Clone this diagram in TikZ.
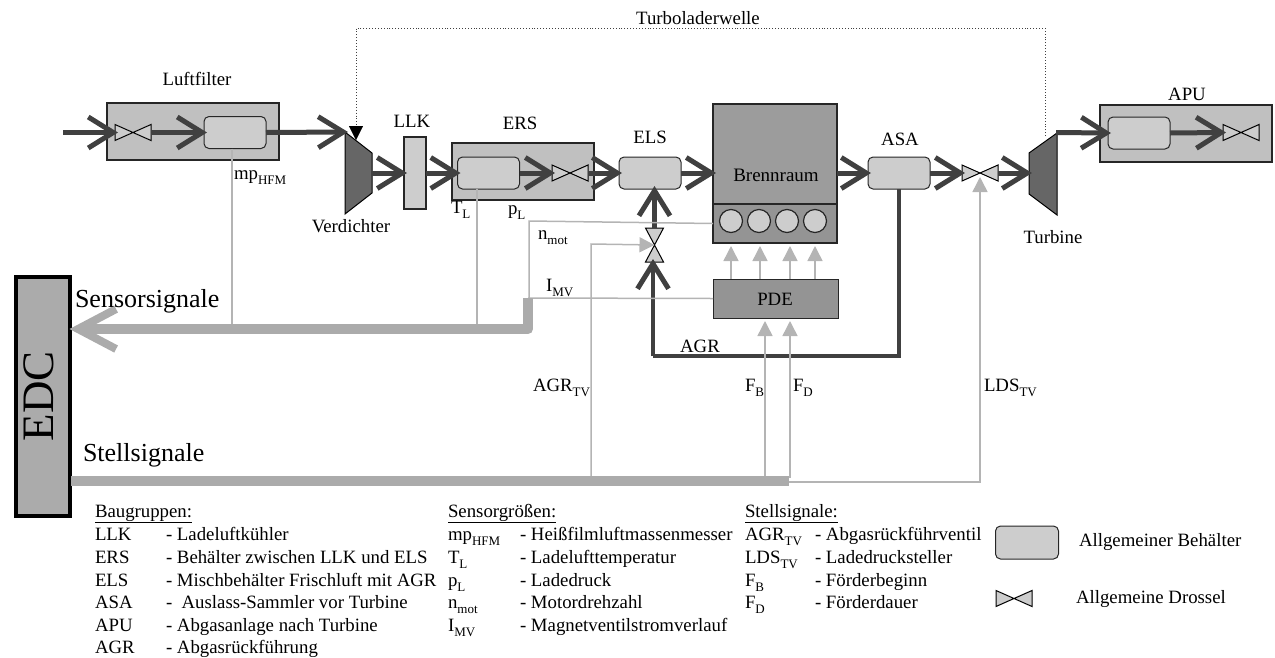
\documentclass[tikz,border=0pt]{standalone}
\usepackage{fontspec}
\setmainfont{Liberation Serif}
\usetikzlibrary{arrows.meta}
\definecolor{flowc}{HTML}{404040}
\definecolor{sigc}{HTML}{B4B4B4}
\definecolor{barc}{HTML}{ABABAB}
\definecolor{boxc}{HTML}{C0C0C0}
\definecolor{contc}{HTML}{CDCDCD}
\definecolor{motc}{HTML}{9C9C9C}
\definecolor{machc}{HTML}{666666}
\newcommand\tief[1]{\raisebox{-0.3em}{\fontsize{13}{13}\selectfont #1}}
\newcommand\fs[1]{\fontsize{#1}{#1}\selectfont}
\tikzset{
  every node/.style={inner sep=0pt,outer sep=0pt},
  gruppe/.style={draw=black!85,line width=1.2pt,fill=boxc,minimum width=#1,minimum height=57pt},
  behaelter/.style={draw=black!85,line width=1pt,fill=contc,rounded corners=5pt,minimum width=62pt,minimum height=32pt},
  schwarz/.style={draw=black!85,line width=1.2pt,fill=motc},
  drosselbox/.style={minimum width=36pt,minimum height=16pt},
  drosselhoch/.style={minimum width=18pt,minimum height=34pt},
  flowline/.style={draw=flowc,line width=5pt,-{Straight Barb[length=25pt,width=31pt,line width=5pt]},shorten >=-3pt},
  agrline/.style={draw=flowc,line width=3.5pt,line join=miter},
  signal/.style={draw=sigc,line width=1.5pt},
  signalpfeil/.style={signal,-{Triangle[length=15pt,width=15pt,fill=sigc]}},
  dick/.style={draw=barc,line width=10pt,line join=round},
  txt/.style={font=\fs{18.8},anchor=base west},
  mitte/.style={font=\fs{18.8},anchor=base},
}
\newcommand\drosselH[1]{%
  \filldraw[draw=black,line width=1pt,fill=contc] (#1.south west)--(#1.center)--(#1.north west)--cycle
    (#1.south east)--(#1.center)--(#1.north east)--cycle;}
\newcommand\drosselV[1]{%
  \filldraw[draw=black,line width=1pt,fill=contc] (#1.north west)--(#1.center)--(#1.north east)--cycle
    (#1.south west)--(#1.center)--(#1.south east)--cycle;}
\begin{document}
\begin{tikzpicture}[x=1pt,y=-1pt]
\useasboundingbox (0,0) rectangle (1275,657);
% groups
\node[gruppe=172pt] (lf) at (193,131.5) {};
\node[gruppe=142pt] (ers) at (523,171.5) {};
\node[gruppe=172pt] (apu) at (1186,133.5) {};
% engine
\node[schwarz,minimum width=124pt,minimum height=100pt,anchor=north west] (br) at (713,104) {};
\node[schwarz,minimum width=124pt,minimum height=39pt,anchor=north west,fill=motc!95!black] (zyl) at (713,204) {};
\node[schwarz,minimum width=125pt,minimum height=39pt,anchor=north west,line width=1pt,fill=motc!95!black] (pde) at (713,279) {};
\foreach \n/\x in {1/731,2/759,3/787,4/815}
  \node[circle,draw=black!85,line width=1.2pt,fill=contc,minimum size=23pt] (c\n) at (\x,221) {};
% containers
\node[behaelter] (k1) at (235,132.5) {};
\node[behaelter] (k2) at (488.5,173) {};
\node[behaelter] (els) at (650,173) {};
\node[behaelter] (asa) at (899,173) {};
\node[behaelter] (k5) at (1139,133) {};
% valves
\node[drosselbox] (v1) at (133,132.5) {}; \drosselH{v1}
\node[drosselbox] (v2) at (570,173) {}; \drosselH{v2}
\node[drosselbox] (v3) at (980,173) {}; \drosselH{v3}
\node[drosselbox] (v4) at (1241,132.5) {}; \drosselH{v4}
\node[drosselhoch] (v5) at (654.5,245) {}; \drosselV{v5}
% LLK
\node[draw=black!85,line width=1.2pt,fill=contc,minimum width=22pt,minimum height=72pt] (llk) at (415,173) {};
% compressor and turbine
\node[minimum width=27pt,minimum height=82pt] (vd) at (358.5,173) {};
\filldraw[draw=black,line width=1pt,fill=machc] (vd.north west)--(vd.east |- 0,153)--(vd.east |- 0,193)--(vd.south west)--cycle;
\node[minimum width=28pt,minimum height=82pt] (tb) at (1043,174) {};
\filldraw[draw=black,line width=1pt,fill=machc] (tb.north east)--(tb.west |- 0,153)--(tb.west |- 0,194)--(tb.south east)--cycle;
% shaft
\coordinate (w1) at (1045,136);
\coordinate (w2) at (356,140);
\draw[draw=black!75,line width=.9pt,dotted] (w1)--(1045,28)--(356,28)--(356,127);
\coordinate (w3) at (356,126);
\draw[black,-{Triangle[length=14pt,width=14pt,fill=black]}] (w3)--(w2);
% flow
\coordinate (in) at (63,132.5);
\draw[flowline] (in)--(v1.west);
\draw[flowline] (v1.east)--(k1.west);
\draw[flowline] (k1.east)--(vd.north west);
\draw[flowline] (vd.east)--(llk.west);
\draw[flowline] (llk.east)--(k2.west);
\draw[flowline] (k2.east)--(v2.west);
\draw[flowline] (v2.east)--(els.west);
\draw[flowline] (els.east)--(br.west |- els.east);
\draw[flowline] (br.east |- asa.west)--(asa.west);
\draw[flowline] (asa.east)--(v3.west);
\draw[flowline] (v3.east)--(tb.west |- v3.east);
\coordinate (taus) at (1056,132.5);
\draw[flowline] (taus)--(k5.west);
\draw[flowline] (k5.east)--(v4.west);
% EGR
\draw[flowline] (v5.north)--(els.south -| v5.north);
\coordinate (agr) at (653,356);
\draw[agrline] (asa.south)--(899,356)--(agr);
\draw[flowline,line width=4.5pt] (agr)--(653,262);
% EDC
\node[draw=black,line width=4pt,fill=barc,minimum width=54pt,minimum height=239pt] (edc) at (42.5,396.5) {};
\node[rotate=90,font=\fs{45}] (edct) at (39,396) {EDC};
% sensors
\coordinate (dk) at (528,298);
\coordinate (s1) at (232,329);
\coordinate (s2) at (477,329);
\draw[signal] (k1.south -| s1)--(s1);
\draw[signal] (k2.south -| s2)--(s2);
\draw[signal] (pde.west)--(dk);
\draw[signal] (zyl.west)--(529,221)--(529,298);
\draw[dick,-{Straight Barb[length=38pt,width=40pt,line width=8pt]}] (dk)--(528,329)--(edc.east |- 0,329);
% actuators
\coordinate (b0) at (71,481);
\coordinate (b1) at (789,481);
\draw[signalpfeil] (591,478)--(591,244)--(v5.center);
\draw[signalpfeil] (765,478)--(765,321);
\draw[signalpfeil] (790,478)--(790,321);
\draw[signalpfeil] (b1 |- 0,482)--(980,482)--(980,177);
\draw[draw=barc,line width=10pt] (b0)--(b1);
% injection
\foreach \x in {731,760,790,815}
  \draw[signalpfeil] (\x,279)--(\x,246);
% labels
\node[mitte] (t1) at (197,85) {Luftfilter};
\node[mitte] (t2) at (412,127) {LLK};
\node[mitte] (t3) at (520,129) {ERS};
\node[mitte] (t4) at (650,143) {ELS};
\node[mitte,font=\fs{19}] (t5) at (776,181) {Brennraum};
\node[mitte] (t6) at (775,305) {PDE};
\node[mitte] (t7) at (700,352) {AGR};
\node[mitte] (t8) at (900,145) {ASA};
\node[mitte] (t9) at (1187,100) {APU};
\node[mitte] (t10) at (1053,243) {Turbine};
\node[mitte] (t11) at (351,232) {Verdichter};
\node[mitte] (t12) at (698,24) {Turboladerwelle};
\node[txt] (t13) at (234,179) {mp\tief{HFM}};
\node[txt] (t14) at (451,213) {T\tief{L}};
\node[txt] (t15) at (508,214) {p\tief{L}};
\node[txt] (t16) at (538,239) {n\tief{mot}};
\node[txt] (t17) at (546,291) {I\tief{MV}};
\node[txt] (t18) at (533,391) {AGR\tief{TV}};
\node[txt] (t19) at (745,391) {F\tief{B}};
\node[txt] (t20) at (793,391) {F\tief{D}};
\node[txt] (t21) at (984,391) {LDS\tief{TV}};
\node[txt,font=\fs{26}] (t22) at (75,307) {Sensorsignale};
\node[txt,font=\fs{26}] (t23) at (83,461) {Stellsignale};
% legend
\node[txt] (h1) at (95,517) {\underline{Baugruppen:}};
\node[txt] (a1) at (95,540) {LLK};   \node[txt] (b1t) at (166,540) {- Ladeluftkühler};
\node[txt] (a2) at (95,563) {ERS};   \node[txt] (b2t) at (166,563) {- Behälter zwischen LLK und ELS};
\node[txt] (a3) at (95,586) {ELS};   \node[txt] (b3t) at (166,586) {- Mischbehälter Frischluft mit AGR};
\node[txt] (a4) at (95,608) {ASA};   \node[txt] (b4t) at (166,608) {-\hspace{0.5em}Auslass-Sammler vor Turbine};
\node[txt] (a5) at (95,631) {APU};   \node[txt] (b5t) at (166,631) {- Abgasanlage nach Turbine};
\node[txt] (a6) at (95,653) {AGR};   \node[txt] (b6t) at (166,653) {- Abgasrückführung};
\node[txt] (h2) at (448,517) {\underline{Sensorgrößen:}};
\node[txt] (c1t) at (448,540) {mp\tief{HFM}}; \node[txt] (d1) at (520,540) {- Heißfilmluftmassenmesser};
\node[txt] (c2t) at (448,563) {T\tief{L}};    \node[txt] (d2) at (520,563) {- Ladelufttemperatur};
\node[txt] (c3t) at (448,586) {p\tief{L}};    \node[txt] (d3) at (520,586) {- Ladedruck};
\node[txt] (c4t) at (448,608) {n\tief{mot}};  \node[txt] (d4) at (520,608) {- Motordrehzahl};
\node[txt] (c5t) at (448,631) {I\tief{MV}};   \node[txt] (d5) at (520,631) {- Magnetventilstromverlauf};
\node[txt] (h3) at (745,517) {\underline{Stellsignale:}};
\node[txt] (e1) at (745,540) {AGR\tief{TV}}; \node[txt] (f1) at (815,540) {- Abgasrückführventil};
\node[txt] (e2) at (745,563) {LDS\tief{TV}}; \node[txt] (f2) at (815,563) {- Ladedrucksteller};
\node[txt] (e3) at (745,586) {F\tief{B}};    \node[txt] (f3) at (815,586) {- Förderbeginn};
\node[txt] (e4) at (745,608) {F\tief{D}};    \node[txt] (f4) at (815,608) {- Förderdauer};
\node[behaelter,minimum width=63pt,minimum height=33pt] (lg1) at (1027,542.5) {};
\node[drosselbox] (lg2) at (1014,598.5) {}; \drosselH{lg2}
\node[txt] (g1) at (1079,546) {Allgemeiner Behälter};
\node[txt] (g2) at (1076,603) {Allgemeine Drossel};
\end{tikzpicture}
\end{document}
